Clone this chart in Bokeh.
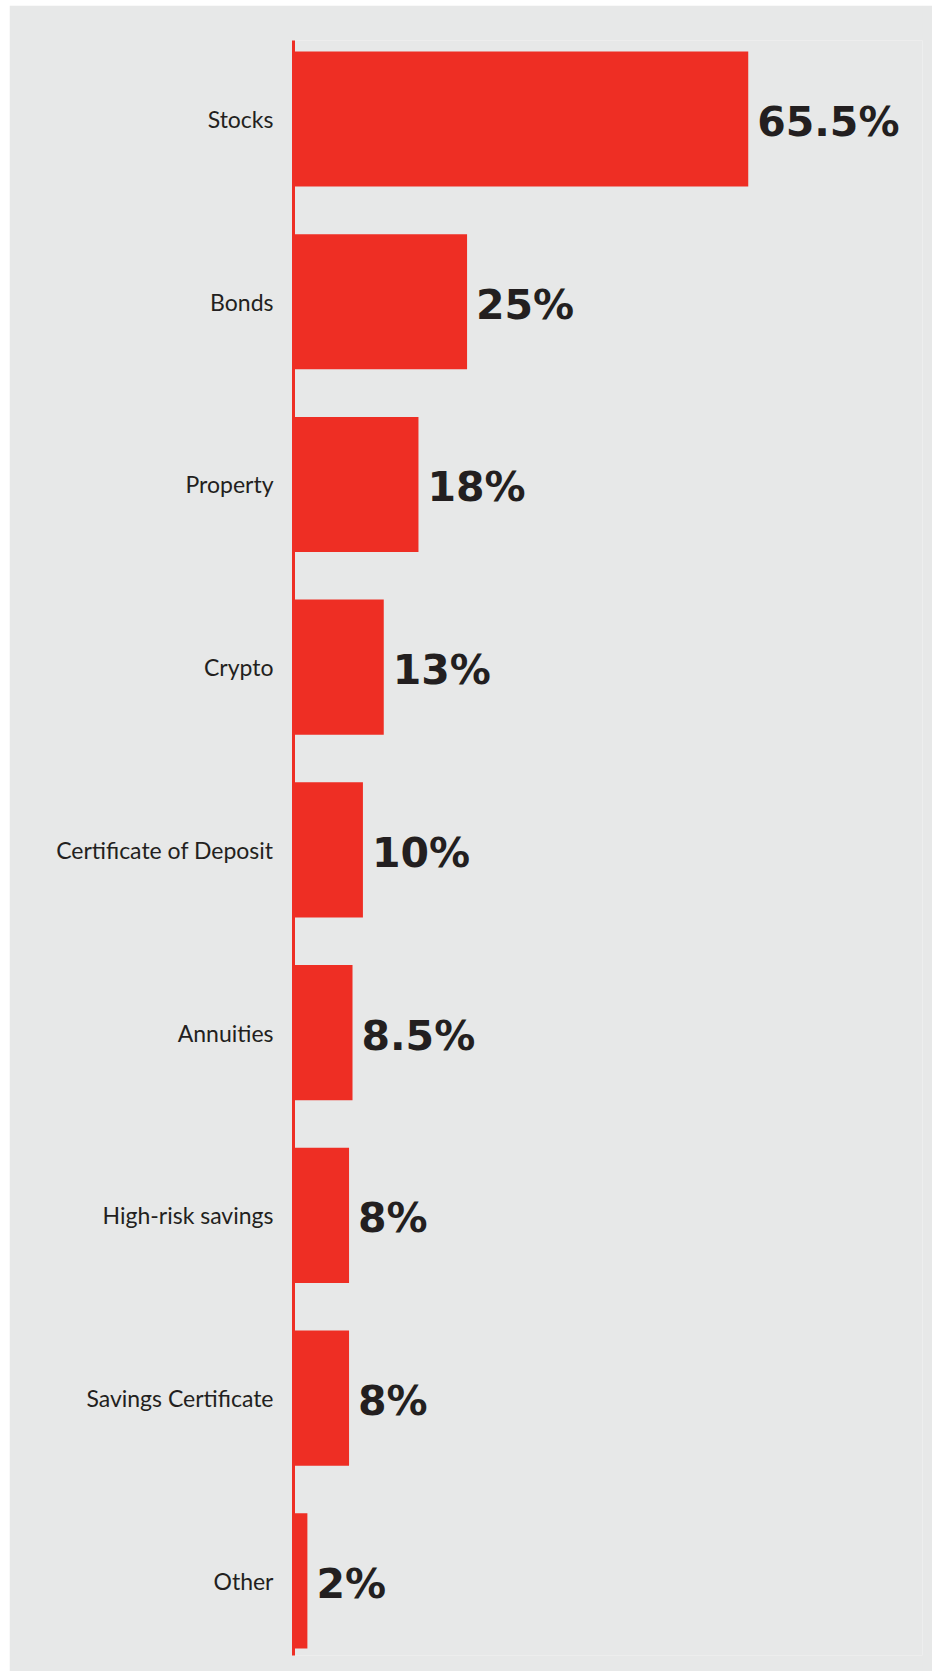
from bokeh.plotting import figure
from bokeh.models import Range1d, FixedTicker, ColumnDataSource, Spacer
from bokeh.layouts import column, row
from bokeh.core.properties import value
from bokeh.embed import file_html
from bokeh.resources import INLINE

categories = ["Stocks", "Bonds", "Property", "Crypto", "Certificate of Deposit",
              "Annuities", "High-risk savings", "Savings Certificate", "Other"]
values = [65.5, 25, 18, 13, 10, 8.5, 8, 8, 2]
value_labels = ["65.5%", "25%", "18%", "13%", "10%", "8.5%", "8%", "8%", "2%"]

BG = "#E7E8E8"
RED = "#EE2E24"
DARK = "#231F20"

idx = list(range(len(categories)))
src = ColumnDataSource(dict(y=idx, v=values, lab=value_labels, cat=categories))

p = figure(width=923, height=1666, output_backend="svg", toolbar_location=None,
           x_range=Range1d(0, 90.6), y_range=Range1d(8.408, -0.4296),
           x_axis_location=None,
           min_border_left=284, min_border_right=10, min_border_top=35, min_border_bottom=16)

p.background_fill_color = BG
p.border_fill_color = BG
p.outline_line_color = None
p.xgrid.visible = False
p.ygrid.visible = False

p.hbar(y="y", right="v", left=0, height=0.74, source=src, fill_color=RED, line_color=None)

p.text(x="v", y="y", text="lab", source=src, x_offset=9, y_offset=3,
       text_baseline="middle", text_align="left",
       text_font=value("DejaVu Sans"), text_font_style="bold", text_font_size="41px",
       text_color=DARK)

ax = p.yaxis[0]
ax.ticker = FixedTicker(ticks=idx)
ax.major_label_overrides = {i: c for i, c in enumerate(categories)}
ax.axis_line_color = RED
ax.axis_line_width = 3
ax.major_tick_line_color = None
ax.minor_tick_line_color = None
ax.major_tick_out = 0
ax.major_tick_in = 0
ax.major_label_standoff = 20
ax.major_label_text_font = "Lato"
ax.major_label_text_font_size = "23px"
ax.major_label_text_color = DARK

layout = column(Spacer(height=5), row(Spacer(width=9), p))

open("out.html", "w").write(file_html(layout, INLINE))
